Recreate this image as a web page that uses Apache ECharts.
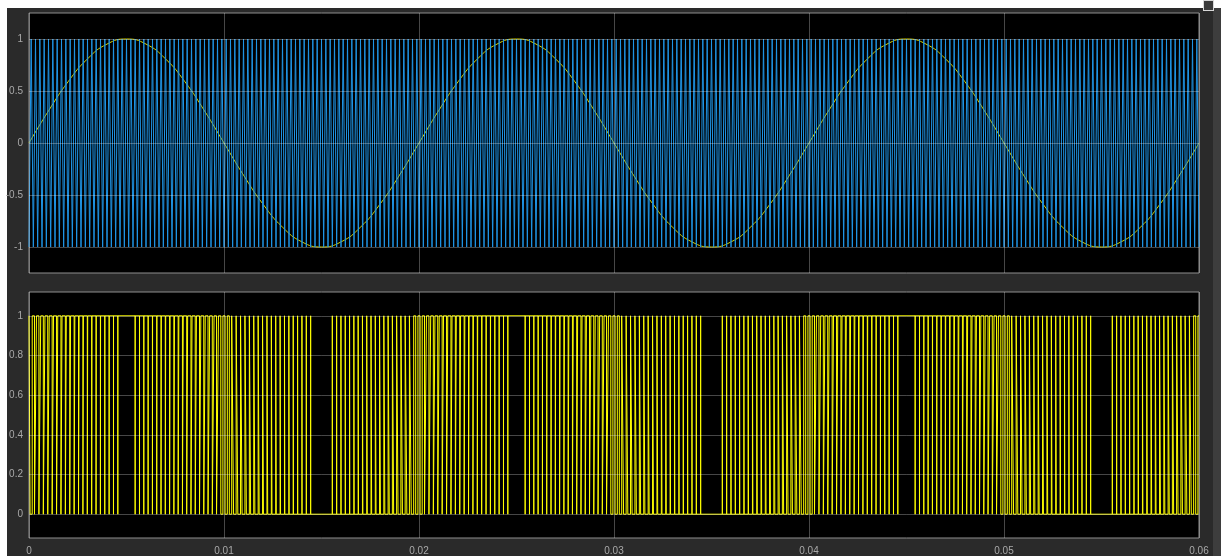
<!DOCTYPE html>
<html>
<head>
<meta charset="utf-8">
<script src="https://cdn.jsdelivr.net/npm/echarts@6/dist/echarts.min.js"></script>
<style>
  html, body { margin: 0; padding: 0; background: #ffffff; width: 1221px; height: 556px; overflow: hidden; }
  #frame { position: absolute; left: 7px; top: 8px; width: 1214px; height: 548px; background: #2a2a2a; }
  #strip { position: absolute; left: 1213px; top: 8px; width: 8px; height: 548px; background: #3d3d3d; }
  #icon { position: absolute; left: 1203px; top: 0px; width: 11px; height: 11px; background: #3a3a3a; border: 1px solid #d8d8d8; box-sizing: border-box; }
  #chart { position: absolute; left: 0; top: 0; width: 1221px; height: 556px; }
</style>
</head>
<body>
<div id="frame"></div>
<div id="strip"></div>
<div id="icon"></div>
<div id="chart"></div>
<script>
// ---- data ----
const xTickValues = [0, 0.01, 0.02, 0.03, 0.04, 0.05, 0.06];
const xTickLabels = ['0', '0.01', '0.02', '0.03', '0.04', '0.05', '0.06'];
const topYTickValues = [-1, -0.5, 0, 0.5, 1];
const topYTickLabels = ['-1', '-0.5', '0', '0.5', '1'];
const bottomYTickValues = [0, 0.2, 0.4, 0.6, 0.8, 1];
const bottomYTickLabels = ['0', '0.2', '0.4', '0.6', '0.8', '1'];

// reference sine (yellow), sampled every 1 ms from 0 to 0.06 s
const sineStep = 0.001;
const sineValues = [
  0, 0.309, 0.588, 0.809, 0.951, 1, 0.951, 0.809, 0.588, 0.309,
  0, -0.309, -0.588, -0.809, -0.951, -1, -0.951, -0.809, -0.588, -0.309,
  0, 0.309, 0.588, 0.809, 0.951, 1, 0.951, 0.809, 0.588, 0.309,
  0, -0.309, -0.588, -0.809, -0.951, -1, -0.951, -0.809, -0.588, -0.309,
  0, 0.309, 0.588, 0.809, 0.951, 1, 0.951, 0.809, 0.588, 0.309,
  0, -0.309, -0.588, -0.809, -0.951, -1, -0.951, -0.809, -0.588, -0.309,
  0
];

// triangular carrier (blue): vertex levels and number of periods counted in 0..0.06 s
const carrierLevels = [-1, 1];
const carrierCycles = 270;
const tEnd = 0.06;
// shortest pulse that the scope still shows (narrower ones merge away)
const minPulse = 8e-7;

// ---- build series data from the arrays ----
const sineData = sineValues.map((v, i) => [i * sineStep, v]);

const carrierPeriod = tEnd / carrierCycles;
const carrierData = [];
for (let k = 0; k <= carrierCycles * 2; k++) {
  carrierData.push([k * carrierPeriod / 2, carrierLevels[k % 2]]);
}

// cubic (Catmull-Rom) reading of the sine samples, used for the comparator
function sineAt(t) {
  const n = sineValues.length;
  let f = t / sineStep;
  let i = Math.floor(f);
  if (i >= n - 1) { i = n - 2; }
  if (i < 0) { i = 0; }
  const u = f - i;
  const p0 = sineValues[Math.max(i - 1, 0)], p1 = sineValues[i], p2 = sineValues[i + 1], p3 = sineValues[Math.min(i + 2, n - 1)];
  return 0.5 * ((2 * p1) + (-p0 + p2) * u + (2 * p0 - 5 * p1 + 4 * p2 - p3) * u * u + (-p0 + 3 * p1 - 3 * p2 + p3) * u * u * u);
}
function carrierAt(t) {
  for (let k = 0; k < carrierData.length - 1; k++) {
    const a = carrierData[k], b = carrierData[k + 1];
    if (t >= a[0] && t <= b[0]) {
      return a[1] + (b[1] - a[1]) * (t - a[0]) / (b[0] - a[0]);
    }
  }
  return carrierData[carrierData.length - 1][1];
}

// comparator: PWM = 1 where sine > carrier
const crossings = [];
for (let k = 0; k < carrierData.length - 1; k++) {
  const a = carrierData[k], b = carrierData[k + 1];
  const fa = sineAt(a[0]) - a[1];
  const fb = sineAt(b[0]) - b[1];
  if ((fa > 0) !== (fb > 0)) {
    let lo = a[0], hi = b[0];
    const lin = (t) => sineAt(t) - (a[1] + (b[1] - a[1]) * (t - a[0]) / (b[0] - a[0]));
    for (let it = 0; it < 40; it++) {
      const mid = (lo + hi) / 2;
      if ((lin(mid) > 0) === (fa > 0)) lo = mid; else hi = mid;
    }
    crossings.push((lo + hi) / 2);
  }
}
// remove pulses narrower than the scope resolves
const kept = [];
for (let i = 0; i < crossings.length; i++) {
  if (i + 1 < crossings.length && crossings[i + 1] - crossings[i] < minPulse) { i++; continue; }
  kept.push(crossings[i]);
}
let level = sineAt(0) > carrierAt(0) + 1e-9 ? 1 : 0;
if (sineAt(0) === carrierAt(0)) { level = 1; }
const pwmData = [[0, level]];
for (const tc of kept) {
  pwmData.push([tc, level]);
  level = 1 - level;
  pwmData.push([tc, level]);
}
pwmData.push([tEnd, level]);

// ---- chart ----
function labelFrom(values, labels) {
  return function (v) {
    for (let i = 0; i < values.length; i++) {
      if (Math.abs(v - values[i]) < 1e-9) return labels[i];
    }
    return '';
  };
}
const gridLineStyle = { color: 'rgba(255,255,255,0.28)', width: 1, type: 'solid' };
const labelColor = '#a9a9a9';
const fontFamily = 'Liberation Sans, Arial, sans-serif';

const chart = echarts.init(document.getElementById('chart'), null, { renderer: 'canvas' });
chart.setOption({
  backgroundColor: 'transparent',
  animation: false,
  grid: [
    { left: 29, top: 13, width: 1170, height: 260, show: true, backgroundColor: '#000', borderColor: '#8e8e8e', borderWidth: 1, containLabel: false },
    { left: 29, top: 292, width: 1170, height: 248, show: true, backgroundColor: '#000', borderColor: '#8e8e8e', borderWidth: 1, containLabel: false }
  ],
  xAxis: [
    { gridIndex: 0, type: 'value', min: 0, max: tEnd, interval: 0.01, z: 10,
      axisLine: { show: false }, axisTick: { show: false }, axisLabel: { show: false },
      splitLine: { show: true, lineStyle: gridLineStyle } },
    { gridIndex: 1, type: 'value', min: 0, max: tEnd, interval: 0.01, z: 10,
      axisLine: { show: false }, axisTick: { show: false },
      axisLabel: { show: true, color: labelColor, fontSize: 10, fontFamily: fontFamily, margin: 8,
        formatter: labelFrom(xTickValues, xTickLabels), showMinLabel: true, showMaxLabel: true },
      splitLine: { show: true, lineStyle: gridLineStyle } }
  ],
  yAxis: [
    { gridIndex: 0, type: 'value', min: -1.25, max: 1.25, interval: 0.25, z: 10,
      axisLine: { show: false }, axisTick: { show: false }, splitLine: { show: false },
      axisLabel: { color: labelColor, fontSize: 10, fontFamily: fontFamily, margin: 6,
        formatter: labelFrom(topYTickValues, topYTickLabels) } },
    { gridIndex: 1, type: 'value', min: -0.12, max: 1.12, interval: 0.04, z: 10,
      axisLine: { show: false }, axisTick: { show: false }, splitLine: { show: false },
      axisLabel: { color: labelColor, fontSize: 10, fontFamily: fontFamily, margin: 6,
        formatter: labelFrom(bottomYTickValues, bottomYTickLabels) } }
  ],
  series: [
    { name: 'sine', type: 'line', xAxisIndex: 0, yAxisIndex: 0, data: sineData, smooth: true,
      showSymbol: false, symbol: 'none', sampling: 'none', z: 2, silent: true,
      lineStyle: { color: '#d6d600', width: 1 }, emphasis: { disabled: true } },
    { name: 'carrier', type: 'line', xAxisIndex: 0, yAxisIndex: 0, data: carrierData,
      showSymbol: false, symbol: 'none', sampling: 'none', z: 3, silent: true, progressive: 0,
      lineStyle: { color: '#1f95e6', width: 1 }, emphasis: { disabled: true },
      markLine: { silent: true, symbol: ['none', 'none'], label: { show: false }, animation: false,
        lineStyle: gridLineStyle, emphasis: { disabled: true },
        data: topYTickValues.map(v => ({ yAxis: v })) } },
    { name: 'pwm', type: 'line', xAxisIndex: 1, yAxisIndex: 1, data: pwmData,
      showSymbol: false, symbol: 'none', sampling: 'none', z: 3, silent: true, progressive: 0,
      lineStyle: { color: '#ffff00', width: 1 }, emphasis: { disabled: true },
      markLine: { silent: true, symbol: ['none', 'none'], label: { show: false }, animation: false,
        lineStyle: gridLineStyle, emphasis: { disabled: true },
        data: bottomYTickValues.map(v => ({ yAxis: v })) } }
  ]
});
</script>
</body>
</html>
